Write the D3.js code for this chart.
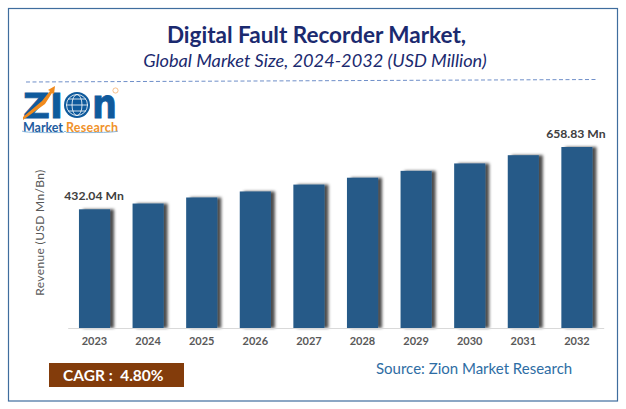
<!DOCTYPE html>
<html>
<head>
<meta charset="utf-8">
<script src="https://cdn.jsdelivr.net/npm/d3@7/dist/d3.min.js"></script>
<style>
  html, body { margin: 0; padding: 0; background: #fff; }
  svg { display: block; }
  text { font-family: Lato, "Open Sans", sans-serif; }
</style>
</head>
<body>
<svg id="chart" width="626" height="409"></svg>
<script>
const years = ['2023', '2024', '2025', '2026', '2027', '2028', '2029', '2030', '2031', '2032'];
const revenue = [432.04, 453, 475, 497, 522, 547, 572, 599, 629, 658.83];
const valueLabels = { 2023: '432.04 Mn', 2032: '658.83 Mn' };

const svg = d3.select('#chart');
const defs = svg.append('defs');

// soft shadow falling to the right of each bar
const shadow = defs.append('filter')
  .attr('id', 'bar-shadow')
  .attr('x', '-10%').attr('y', '-5%')
  .attr('width', '140%').attr('height', '110%');
shadow.append('feDropShadow')
  .attr('dx', 4).attr('dy', 0)
  .attr('stdDeviation', 1.8)
  .attr('flood-color', '#000')
  .attr('flood-opacity', 0.7);

// outer frame
svg.append('rect')
  .attr('x', 8.5).attr('y', 8.5)
  .attr('width', 609).attr('height', 392.5)
  .attr('fill', '#fff')
  .attr('stroke', '#3f6d9e')
  .attr('stroke-width', 1.2);

// titles
svg.append('text')
  .attr('x', 316.5).attr('y', 43)
  .attr('text-anchor', 'middle')
  .attr('font-size', 22.5)
  .attr('font-weight', 700)
  .attr('fill', '#1b2a6f')
  .text('Digital Fault Recorder Market,');

svg.append('text')
  .attr('x', 315).attr('y', 67)
  .attr('text-anchor', 'middle')
  .attr('font-size', 18.2)
  .attr('font-style', 'italic')
  .attr('fill', '#1b2a6f')
  .text('Global Market Size, 2024-2032 (USD Million)');

// dashed rule under the titles
svg.append('line')
  .attr('x1', 26).attr('y1', 82)
  .attr('x2', 598).attr('y2', 79.5)
  .attr('stroke', '#6f8fc9')
  .attr('stroke-width', 1)
  .attr('stroke-dasharray', '4 2.5');

// logo
const logo = svg.append('g').attr('class', 'logo');
const logoLetter = (txt, lx, size, len) => logo.append('text')
  .attr('x', lx).attr('y', 118)
  .attr('font-size', size).attr('font-weight', 700)
  .attr('fill', '#0f5a9c')
  .attr('stroke', '#0f5a9c').attr('stroke-width', 0.8)
  .attr('textLength', len).attr('lengthAdjust', 'spacingAndGlyphs')
  .style('font-family', '"DejaVu Sans", sans-serif')
  .text(txt);
logoLetter('Z', 23, 34, 27);
logoLetter('I', 50, 34, 13);
logoLetter('n', 92, 41, 25);
logo.append('path')
  .attr('d', d3.line()([[23, 117], [42, 101], [50, 91], [48, 90], [55, 86], [54, 94], [52, 93], [45, 104], [23, 120]]))
  .attr('fill', '#f08a1d');
logo.append('circle')
  .attr('cx', 77).attr('cy', 105).attr('r', 13)
  .attr('fill', '#0f5a9c');
logo.append('circle')
  .attr('cx', 77).attr('cy', 105).attr('r', 10.5)
  .attr('fill', 'none').attr('stroke', '#fff').attr('stroke-width', 0.8);
logo.append('ellipse')
  .attr('cx', 77).attr('cy', 105).attr('rx', 5).attr('ry', 10.5)
  .attr('fill', 'none').attr('stroke', '#fff').attr('stroke-width', 0.8);
logo.append('path')
  .attr('d', 'M66 105H88M68 99H86M68 111H86')
  .attr('fill', 'none').attr('stroke', '#fff').attr('stroke-width', 0.8);
logo.append('circle')
  .attr('cx', 115.5).attr('cy', 90.5).attr('r', 2.6)
  .attr('fill', 'none').attr('stroke', '#f3a65a').attr('stroke-width', 0.7);
logo.append('text')
  .attr('x', 23).attr('y', 132)
  .attr('font-size', 12.5).attr('font-weight', 700)
  .attr('fill', '#1f5d9f')
  .attr('textLength', 40)
  .text('Market');
logo.append('text')
  .attr('x', 66).attr('y', 132)
  .attr('font-size', 12.5).attr('font-weight', 700)
  .attr('fill', '#f0922b')
  .attr('textLength', 52)
  .text('Research');
logo.append('path')
  .attr('d', 'M22 131Q24 133 62 132.5Q64 133 65 131Q66 133 68 132.5Q114 133 118 131')
  .attr('fill', 'none').attr('stroke', '#7fb0d8').attr('stroke-width', 0.9);

// chart
const x = d3.scaleBand()
  .domain(years)
  .range([67.7, 603.7])
  .paddingInner(0.42)
  .paddingOuter(0.21);

const y = d3.scaleLinear()
  .domain([0, 658.83])
  .range([328, 147]);

svg.append('g')
  .selectAll('rect')
  .data(revenue)
  .join('rect')
  .attr('x', (d, i) => x(years[i]))
  .attr('y', d => y(d))
  .attr('width', x.bandwidth())
  .attr('height', d => y(0) - y(d))
  .attr('fill', '#265a88')
  .attr('filter', 'url(#bar-shadow)');

const xAxis = svg.append('g')
  .attr('transform', 'translate(0,328)')
  .call(d3.axisBottom(x).tickSize(0).tickPadding(9));
xAxis.select('.domain')
  .attr('stroke', '#d9d9d9')
  .attr('stroke-width', 1);
xAxis.selectAll('text')
  .attr('font-size', 11)
  .attr('font-weight', 700)
  .attr('fill', '#595959')
  .style('font-family', 'Lato, "Open Sans", sans-serif');

// value labels on first and last bars
svg.append('g')
  .selectAll('text')
  .data(revenue.map((v, i) => ({ year: years[i], v })).filter(d => valueLabels[d.year]))
  .join('text')
  .attr('x', (d, i) => i === 0 ? x(d.year) + x.bandwidth() / 2 - 0.5 : x(d.year) + x.bandwidth() / 2 - 1)
  .attr('y', d => y(d.v) - 9.5)
  .attr('text-anchor', 'middle')
  .attr('font-size', 12.2)
  .attr('font-weight', 700)
  .attr('fill', '#404040')
  .text(d => valueLabels[d.year]);

// y axis title
svg.append('text')
  .attr('transform', 'translate(44,232.5) rotate(-90)')
  .attr('text-anchor', 'middle')
  .attr('font-size', 12)
  .attr('letter-spacing', 0.35)
  .attr('fill', '#595959')
  .text('Revenue (USD Mn/Bn)');

// CAGR box
svg.append('rect')
  .attr('x', 49).attr('y', 363)
  .attr('width', 135).attr('height', 24)
  .attr('fill', '#833c0b');
svg.append('text')
  .attr('x', 63).attr('y', 381)
  .attr('font-size', 15.5)
  .attr('font-weight', 700)
  .attr('fill', '#fff')
  .attr('xml:space', 'preserve')
  .text('CAGR :  4.80%');

// source
svg.append('text')
  .attr('x', 376).attr('y', 374)
  .attr('font-size', 15)
  .attr('fill', '#2e6da4')
  .text('Source: Zion Market Research');
</script>
</body>
</html>
